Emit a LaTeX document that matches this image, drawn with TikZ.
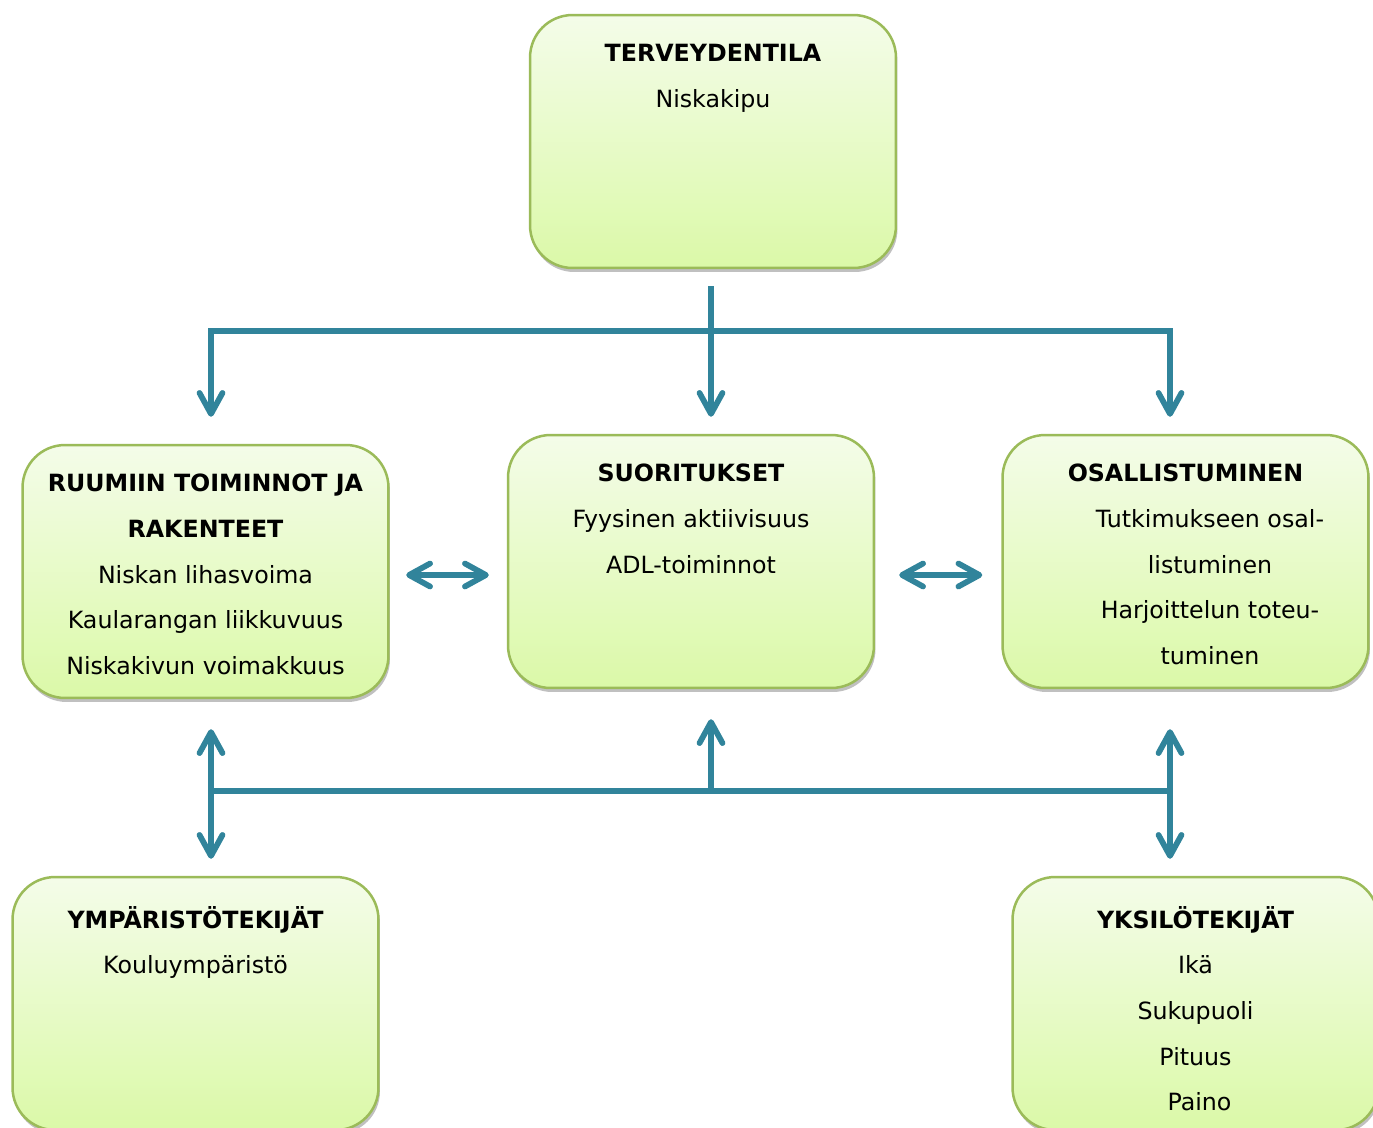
\documentclass[tikz,border=0pt]{standalone}
\usepackage{fontspec}
\setmainfont{DejaVu Sans}
\usepackage{xcolor}
\usepackage{tikz}
\usetikzlibrary{arrows.meta,positioning,shadows}

\definecolor{reunavihrea}{RGB}{155,187,89}
\definecolor{ylavari}{RGB}{244,252,233}
\definecolor{alavari}{RGB}{219,249,168}
\definecolor{nuolisini}{RGB}{49,132,155}

\begin{document}
\begin{tikzpicture}[x=0.02cm, y=-0.02cm,
    laatikko/.style = {draw=reunavihrea, line width=0.05cm, rounded corners=0.85cm,
        minimum width=7.32cm, minimum height=5.06cm, top color=ylavari, bottom color=alavari,
        drop shadow={shadow xshift=0.03cm, shadow yshift=-0.08cm, fill=black!45, opacity=0.55}},
    teksti/.style = {align=center, inner sep=0pt, font=\fontsize{13.5}{26}\selectfont,
        execute at begin node=\strut},
    linja/.style = {draw=nuolisini, line width=0.115cm},
    nuoli/.style = {linja, -{Straight Barb[length=0.42cm, width=0.46cm, round]}},
    nuoli2/.style = {linja, {Straight Barb[length=0.42cm, width=0.46cm, round]}-{Straight Barb[length=0.42cm, width=0.46cm, round]}}]
    \useasboundingbox (0,0) rectangle (1373,1127);

    \node[laatikko] (terveys)   at (713,141.5)    {};
    \node[laatikko] (ruumis)    at (205.5,571.5)  {};
    \node[laatikko] (suoritus)  at (691,561.5)    {};
    \node[laatikko] (osallis)   at (1185.5,561.5) {};
    \node[laatikko] (ymparisto) at (195.5,1003.5) {};
    \node[laatikko] (yksilo)    at (1195.5,1003.5) {};

    \node[teksti, below=0.6cm of terveys.north] (terveys-t)
        {\textbf{TERVEYDENTILA}\\Niskakipu};
    \node[teksti, below=0.6cm of ruumis.north] (ruumis-t)
        {\textbf{RUUMIIN TOIMINNOT JA}\\\textbf{RAKENTEET}\\Niskan lihasvoima\\Kaularangan liikkuvuus\\Niskakivun voimakkuus};
    \node[teksti, below=0.6cm of suoritus.north] (suoritus-t)
        {\textbf{SUORITUKSET}\\Fyysinen aktiivisuus\\ADL-toiminnot};
    \node[teksti, below=0.6cm of osallis.north] (osallis-t)
        {\textbf{OSALLISTUMINEN}\\\hspace*{0.98cm}Tutkimukseen osal-\\\hspace*{0.98cm}listuminen\\\hspace*{0.98cm}Harjoittelun toteu-\\\hspace*{0.98cm}tuminen};
    \node[teksti, below=0.6cm of ymparisto.north] (ymparisto-t)
        {\textbf{YMPÄRISTÖTEKIJÄT}\\Kouluympäristö};
    \node[teksti, below=0.6cm of yksilo.north] (yksilo-t)
        {\textbf{YKSILÖTEKIJÄT}\\Ikä\\Sukupuoli\\Pituus\\\hspace*{0.16cm}Paino};

    \coordinate (yk) at (711,331);
    \coordinate (yv) at (211,331);
    \coordinate (yo) at (1170,331);
    \coordinate (ak) at (711,791);
    \coordinate (av) at (211,791);
    \coordinate (ao) at (1170,791);
    \coordinate (vaaka) at (0,575);

    % ylhaalta alas
    \draw[nuoli, shorten <=0.34cm, shorten >=0.34cm] (terveys.south -| yk) -- (suoritus.north -| yk);
    \draw[nuoli2, shorten <=0.54cm, shorten >=0.34cm] (ruumis.north -| yv) -- (yv) -- (yo) -- (osallis.north -| yo);

    % sivuttain
    \draw[nuoli2, shorten <=0.33cm, shorten >=0.36cm] (ruumis.east |- vaaka) -- (suoritus.west |- vaaka);
    \draw[nuoli2, shorten <=0.48cm, shorten >=0.38cm] (suoritus.east |- vaaka) -- (osallis.west |- vaaka);

    % alhaalla
    \draw[linja] (av) -- (ao);
    \draw[nuoli2, shorten <=0.6cm, shorten >=0.34cm] (ruumis.south -| av) -- (ymparisto.north -| av);
    \draw[nuoli2, shorten <=0.8cm, shorten >=0.34cm] (osallis.south -| ao) -- (yksilo.north -| ao);
    \draw[nuoli, shorten >=0.6cm] (ak) -- (suoritus.south -| ak);
\end{tikzpicture}
\end{document}
